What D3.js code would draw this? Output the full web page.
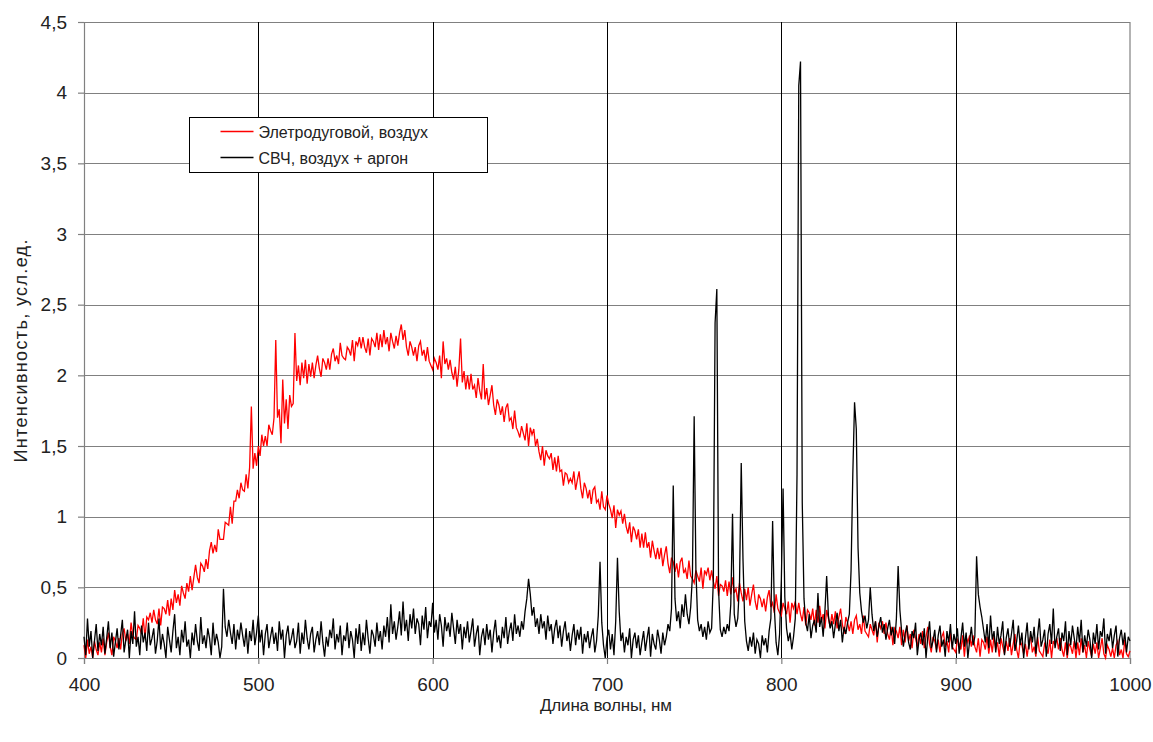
<!DOCTYPE html>
<html>
<head>
<meta charset="utf-8">
<script src="https://cdn.jsdelivr.net/npm/d3@7"></script>
<style>
  body { margin: 0; background: #fff; }
  svg { display: block; font-family: "Liberation Sans", Arial, sans-serif; }
</style>
</head>
<body>
<div id="chart"></div>
<script>
// wavelength grid, nm (1 nm step)
var wavelengths = d3.range(400, 1001, 1);

// Элетродуговой, воздух
var arcAir = [
  0.09,0.00,0.13,0.03,0.08,0.00,0.12,0.06,0.02,0.11,
  0.04,0.14,0.02,0.11,0.18,0.08,0.02,0.15,0.12,0.07,
  0.14,0.06,0.17,0.21,0.12,0.17,0.10,0.25,0.16,0.14,
  0.13,0.23,0.21,0.17,0.28,0.14,0.29,0.27,0.32,0.25,
  0.34,0.27,0.24,0.35,0.23,0.36,0.35,0.31,0.41,0.30,
  0.42,0.34,0.48,0.39,0.45,0.37,0.51,0.46,0.42,0.53,
  0.47,0.58,0.48,0.57,0.66,0.57,0.53,0.67,0.65,0.61,
  0.70,0.63,0.76,0.82,0.74,0.80,0.75,0.91,0.84,0.84,
  0.84,0.96,0.95,0.94,1.07,0.95,1.11,1.11,1.19,1.13,
  1.24,1.19,1.18,1.30,1.20,1.35,1.78,1.34,1.45,1.36,
  1.50,1.43,1.58,1.50,1.57,1.50,1.65,1.61,1.58,1.70,
  2.25,1.70,1.76,1.52,1.97,1.66,1.83,1.62,1.86,1.78,
  1.80,2.30,1.96,2.07,1.93,2.09,1.98,2.11,1.94,2.08,
  1.99,2.09,1.98,2.07,2.14,2.05,1.99,2.12,2.09,2.04,
  2.12,2.04,2.15,2.19,2.10,2.14,2.08,2.23,2.14,2.12,
  2.11,2.20,2.18,2.14,2.25,2.10,2.24,2.21,2.27,2.19,
  2.27,2.20,2.16,2.26,2.14,2.26,2.24,2.20,2.30,2.18,
  2.29,2.20,2.32,2.22,2.27,2.17,2.30,2.24,2.19,2.28,
  2.21,2.30,2.36,2.25,2.32,2.20,2.14,2.24,2.20,2.14,
  2.20,2.10,2.21,2.24,2.14,2.18,2.10,2.20,2.10,2.07,
  2.04,2.12,2.09,2.04,2.14,1.98,2.24,2.08,2.12,2.04,
  2.11,2.02,1.97,2.06,1.92,2.04,2.26,1.95,2.03,1.90,
  2.00,1.90,2.01,1.90,1.93,1.84,1.98,1.89,1.83,2.08,
  1.83,1.91,1.79,1.86,1.93,1.79,1.72,1.83,1.79,1.72,
  1.78,1.67,1.77,1.80,1.68,1.70,1.62,1.75,1.63,1.60,
  1.56,1.64,1.59,1.54,1.66,1.50,1.63,1.58,1.62,1.50,
  1.55,1.46,1.40,1.50,1.36,1.47,1.43,1.41,1.45,1.33,
  1.42,1.32,1.43,1.32,1.33,1.22,1.31,1.30,1.24,1.27,
  1.24,1.32,1.19,1.26,1.32,1.20,1.13,1.24,1.20,1.13,
  1.19,1.09,1.19,1.21,1.10,1.12,1.05,1.18,1.07,1.05,
  1.15,1.09,1.05,0.99,1.08,0.92,1.05,1.01,1.04,0.95,
  1.02,0.93,0.88,0.96,0.82,0.93,0.90,0.84,0.91,0.78,
  0.88,0.78,0.89,0.78,0.82,0.71,0.83,0.76,0.70,0.78,
  0.70,0.78,0.65,0.73,0.79,0.67,0.60,0.71,0.68,0.61,
  0.67,0.57,0.68,0.71,0.60,0.63,0.56,0.69,0.58,0.56,
  0.53,0.62,0.58,0.54,0.64,0.49,0.62,0.59,0.64,0.55,
  0.62,0.54,0.49,0.58,0.44,0.52,0.51,0.47,0.55,0.44,
  0.54,0.45,0.57,0.46,0.49,0.40,0.53,0.46,0.40,0.49,
  0.41,0.50,0.37,0.45,0.52,0.40,0.34,0.45,0.42,0.36,
  0.42,0.33,0.43,0.48,0.36,0.39,0.32,0.45,0.35,0.32,
  0.30,0.39,0.35,0.31,0.40,0.25,0.39,0.35,0.40,0.31,
  0.39,0.31,0.26,0.36,0.23,0.34,0.32,0.27,0.35,0.23,
  0.34,0.25,0.37,0.26,0.31,0.21,0.34,0.28,0.22,0.31,
  0.24,0.33,0.21,0.29,0.35,0.24,0.17,0.29,0.25,0.19,
  0.26,0.17,0.27,0.30,0.20,0.24,0.17,0.30,0.19,0.17,
  0.15,0.24,0.20,0.16,0.26,0.11,0.25,0.21,0.26,0.17,
  0.25,0.17,0.13,0.22,0.09,0.21,0.19,0.14,0.22,0.09,
  0.20,0.11,0.23,0.12,0.17,0.07,0.20,0.14,0.08,0.17,
  0.10,0.19,0.07,0.15,0.22,0.10,0.04,0.15,0.12,0.06,
  0.13,0.04,0.15,0.18,0.08,0.12,0.04,0.18,0.08,0.06,
  0.04,0.13,0.10,0.06,0.16,0.01,0.15,0.11,0.16,0.08,
  0.16,0.08,0.04,0.14,0.01,0.13,0.11,0.06,0.15,0.03,
  0.13,0.04,0.16,0.06,0.11,0.01,0.14,0.08,0.03,0.12,
  0.05,0.14,0.02,0.10,0.17,0.06,0.00,0.12,0.09,0.03,
  0.10,0.01,0.11,0.15,0.04,0.08,0.01,0.15,0.05,0.03,
  0.01,0.10,0.07,0.03,0.13,0.00,0.12,0.09,0.14,0.06,
  0.14,0.06,0.01,0.11,0.00,0.10,0.08,0.03,0.12,0.00,
  0.11,0.02,0.14,0.04,0.09,0.00,0.12,0.06,0.01,0.10,
  0.03,0.11,0.00,0.07,0.14,0.03,0.00,0.09,0.06,0.01,
  0.07,0.00,0.09,0.12,0.02,0.06,0.00,0.13,0.03,0.01,
  0.05
];

// СВЧ, воздух + аргон
var mwAirArgon = [
  0.15,0.02,0.28,0.08,0.19,0.00,0.12,0.24,0.05,0.17,
  0.09,0.22,0.03,0.14,0.26,0.07,0.18,0.01,0.11,0.21,
  0.06,0.16,0.27,0.04,0.13,0.20,0.00,0.19,0.10,0.33,
  0.08,0.15,0.02,0.23,0.11,0.18,0.05,0.25,0.09,0.14,
  0.21,0.03,0.12,0.28,0.06,0.17,0.10,0.00,0.22,0.13,
  0.04,0.19,0.31,0.07,0.15,0.02,0.20,0.11,0.26,0.08,
  0.13,0.00,0.18,0.09,0.24,0.12,0.05,0.29,0.10,0.16,
  0.07,0.21,0.14,0.02,0.25,0.09,0.17,0.11,0.00,0.08,
  0.49,0.22,0.15,0.27,0.18,0.10,0.24,0.06,0.20,0.13,
  0.25,0.16,0.08,0.21,0.03,0.19,0.12,0.27,0.09,0.18,
  0.30,0.11,0.20,0.02,0.17,0.24,0.07,0.15,0.22,0.10,
  0.18,0.05,0.26,0.13,0.20,0.00,0.16,0.23,0.09,0.14,
  0.21,0.07,0.12,0.25,0.03,0.18,0.10,0.27,0.14,0.06,
  0.17,0.22,0.04,0.13,0.19,0.09,0.26,0.11,0.01,0.15,
  0.08,0.20,0.14,0.28,0.06,0.17,0.11,0.23,0.02,0.16,
  0.12,0.25,0.07,0.19,0.13,0.00,0.21,0.10,0.24,0.05,
  0.18,0.09,0.27,0.14,0.03,0.20,0.16,0.08,0.25,0.12,
  0.19,0.06,0.23,0.15,0.29,0.11,0.38,0.17,0.26,0.13,
  0.22,0.33,0.16,0.40,0.19,0.27,0.12,0.31,0.21,0.35,
  0.17,0.28,0.24,0.09,0.30,0.20,0.36,0.14,0.26,0.22,
  0.39,0.18,0.27,0.13,0.31,0.23,0.08,0.29,0.19,0.25,
  0.15,0.32,0.21,0.10,0.27,0.17,0.24,0.06,0.22,0.14,
  0.26,0.11,0.19,0.28,0.08,0.17,0.23,0.02,0.15,0.21,
  0.09,0.24,0.13,0.20,0.04,0.18,0.27,0.11,0.16,0.07,
  0.22,0.14,0.29,0.10,0.19,0.25,0.12,0.31,0.17,0.23,
  0.15,0.26,0.20,0.33,0.42,0.56,0.45,0.30,0.36,0.22,
  0.28,0.17,0.31,0.21,0.26,0.13,0.30,0.19,0.24,0.10,
  0.21,0.27,0.14,0.23,0.08,0.19,0.26,0.12,0.18,0.05,
  0.16,0.24,0.09,0.20,0.13,0.22,0.03,0.17,0.11,0.19,
  0.07,0.15,0.21,0.04,0.12,0.30,0.68,0.25,0.09,0.00,
  0.14,0.20,0.06,0.17,0.02,0.26,0.71,0.33,0.12,0.18,
  0.04,0.15,0.09,0.21,0.00,0.13,0.18,0.07,0.16,0.02,
  0.11,0.19,0.05,0.14,0.22,0.01,0.17,0.10,0.06,0.20,
  0.13,0.03,0.18,0.09,0.15,0.24,0.19,0.35,1.22,0.42,
  0.26,0.33,0.21,0.38,0.29,0.45,0.31,0.24,0.36,0.58,
  1.71,0.62,0.27,0.19,0.24,0.15,0.22,0.13,0.26,0.18,
  0.21,0.55,2.37,2.61,0.48,0.20,0.15,0.22,0.17,0.24,
  0.19,0.38,1.02,0.31,0.22,0.28,0.52,1.38,0.70,0.26,
  0.12,0.05,0.15,0.08,0.18,0.03,0.13,0.10,0.00,0.16,
  0.09,0.14,0.04,0.19,0.28,0.97,0.35,0.11,0.02,0.17,
  0.55,1.20,0.43,0.21,0.12,0.18,0.06,0.15,0.28,1.30,
  4.05,4.22,1.10,0.42,0.25,0.19,0.31,0.14,0.23,0.27,
  0.18,0.46,0.22,0.29,0.15,0.33,0.58,0.30,0.21,0.26,
  0.14,0.24,0.32,0.19,0.27,0.11,0.22,0.17,0.25,0.31,
  0.62,1.30,1.81,1.62,0.78,0.46,0.33,0.25,0.30,0.21,
  0.27,0.50,0.31,0.19,0.26,0.15,0.23,0.29,0.18,0.24,
  0.13,0.21,0.27,0.16,0.22,0.10,0.28,0.65,0.34,0.19,
  0.08,0.17,0.23,0.11,0.06,0.19,0.14,0.25,0.02,0.13,
  0.18,0.09,0.21,0.00,0.15,0.26,0.07,0.12,0.20,0.04,
  0.16,0.23,0.08,0.13,0.01,0.19,0.11,0.24,0.06,0.17,
  0.10,0.21,0.03,0.14,0.25,0.08,0.18,0.00,0.12,0.22,
  0.09,0.15,0.72,0.45,0.36,0.29,0.20,0.11,0.24,0.07,
  0.30,0.13,0.19,0.04,0.22,0.10,0.16,0.26,0.02,0.14,
  0.21,0.08,0.17,0.27,0.05,0.12,0.23,0.09,0.18,0.00,
  0.14,0.25,0.06,0.19,0.11,0.22,0.03,0.16,0.28,0.08,
  0.13,0.20,0.01,0.17,0.24,0.10,0.35,0.07,0.15,0.21,
  0.05,0.18,0.12,0.26,0.02,0.19,0.09,0.23,0.14,0.06,
  0.22,0.11,0.27,0.04,0.16,0.08,0.20,0.13,0.00,0.18,
  0.10,0.24,0.06,0.19,0.15,0.28,0.03,0.17,0.12,0.21,
  0.07,0.16,0.23,0.01,0.14,0.20,0.09,0.18,0.04,0.15,
  0.12
];

var xTicks = [400, 500, 600, 700, 800, 900, 1000];
var yTicks = [0, 0.5, 1, 1.5, 2, 2.5, 3, 3.5, 4, 4.5];
var seriesNames = ["Элетродуговой, воздух", "СВЧ, воздух + аргон"];
var seriesColors = ["#ff0000", "#000000"];

var width = 1153;
var height = 742;
var margin = { left: 84, right: 23, top: 22, bottom: 84 };

var x = d3.scaleLinear().domain([400, 1000]).range([margin.left, width - margin.right]);
var y = d3.scaleLinear().domain([0, 4.5]).range([height - margin.bottom, margin.top]);
var fmt = function (d) { return String(d).replace(".", ","); };

var svg = d3.select("#chart").append("svg")
  .attr("width", width).attr("height", height);

svg.append("rect").attr("width", width).attr("height", height).attr("fill", "#fff");

// horizontal grid
svg.append("g").selectAll("line").data(yTicks).enter().append("line")
  .attr("x1", x(400)).attr("x2", x(1000))
  .attr("y1", function (d) { return Math.round(y(d)) + 0.5; })
  .attr("y2", function (d) { return Math.round(y(d)) + 0.5; })
  .attr("stroke", "#808080").attr("stroke-width", 1.2);

// vertical grid
svg.append("g").selectAll("line").data(xTicks.slice(1, -1)).enter().append("line")
  .attr("x1", function (d) { return Math.round(x(d)) + 0.5; })
  .attr("x2", function (d) { return Math.round(x(d)) + 0.5; })
  .attr("y1", y(4.5)).attr("y2", y(0))
  .attr("stroke", "#000").attr("stroke-width", 1);

// axes
var xAxis = d3.axisBottom(x).tickValues(xTicks).tickSize(6).tickPadding(14).tickFormat(fmt);
var yAxis = d3.axisLeft(y).tickValues(yTicks).tickSize(6).tickPadding(11).tickFormat(fmt);

var gx = svg.append("g").attr("transform", "translate(0," + y(0) + ")").call(xAxis);
var gy = svg.append("g").attr("transform", "translate(" + x(400) + ",0)").call(yAxis);
[gx, gy].forEach(function (g) {
  g.selectAll("path, line").attr("stroke", "#808080").attr("stroke-width", 1.2);
  g.selectAll("text").attr("fill", "#222").style("font-size", "19px")
    .style("font-family", "'Liberation Sans', Arial, sans-serif");
});

// right border
svg.append("line")
  .attr("x1", x(1000)).attr("x2", x(1000)).attr("y1", y(4.5)).attr("y2", y(0))
  .attr("stroke", "#808080").attr("stroke-width", 1.2);

// series
var line = d3.line()
  .x(function (d, i) { return x(wavelengths[i]); })
  .y(function (d) { return y(d); });

svg.append("path").datum(arcAir)
  .attr("fill", "none").attr("stroke", seriesColors[0]).attr("stroke-width", 1.3)
  .attr("stroke-linejoin", "miter").attr("d", line);
svg.append("path").datum(mwAirArgon)
  .attr("fill", "none").attr("stroke", seriesColors[1]).attr("stroke-width", 1.3)
  .attr("stroke-linejoin", "miter").attr("d", line);

// axis titles
svg.append("text")
  .attr("x", 606).attr("y", 711)
  .attr("text-anchor", "middle").style("font-size", "17px").attr("fill", "#222")
  .attr("textLength", 132).attr("lengthAdjust", "spacing")
  .text("Длина волны, нм");
svg.append("text")
  .attr("transform", "translate(26.5,351) rotate(-90)")
  .attr("text-anchor", "middle").style("font-size", "18px").attr("fill", "#222")
  .attr("textLength", 223).attr("lengthAdjust", "spacing")
  .text("Интенсивность, усл.ед.");

// legend
var legend = svg.append("g").attr("transform", "translate(189.5,117.5)");
legend.append("rect").attr("width", 298).attr("height", 55)
  .attr("fill", "#fff").attr("stroke", "#000").attr("stroke-width", 1);
var items = legend.selectAll("g.item")
  .data(seriesNames.map(function (name, i) { return { name: name, color: seriesColors[i] }; }))
  .enter().append("g")
  .attr("transform", function (d, i) { return "translate(0," + (14 + i * 26) + ")"; });
items.append("line").attr("x1", 31).attr("x2", 64).attr("y1", 0).attr("y2", 0)
  .style("stroke", function (d) { return d.color; }).style("stroke-width", "1.6px");
items.append("text").attr("x", 69).attr("y", 6)
  .style("font-size", "16px").attr("fill", "#222")
  .text(function (d) { return d.name; });
</script>
</body>
</html>
